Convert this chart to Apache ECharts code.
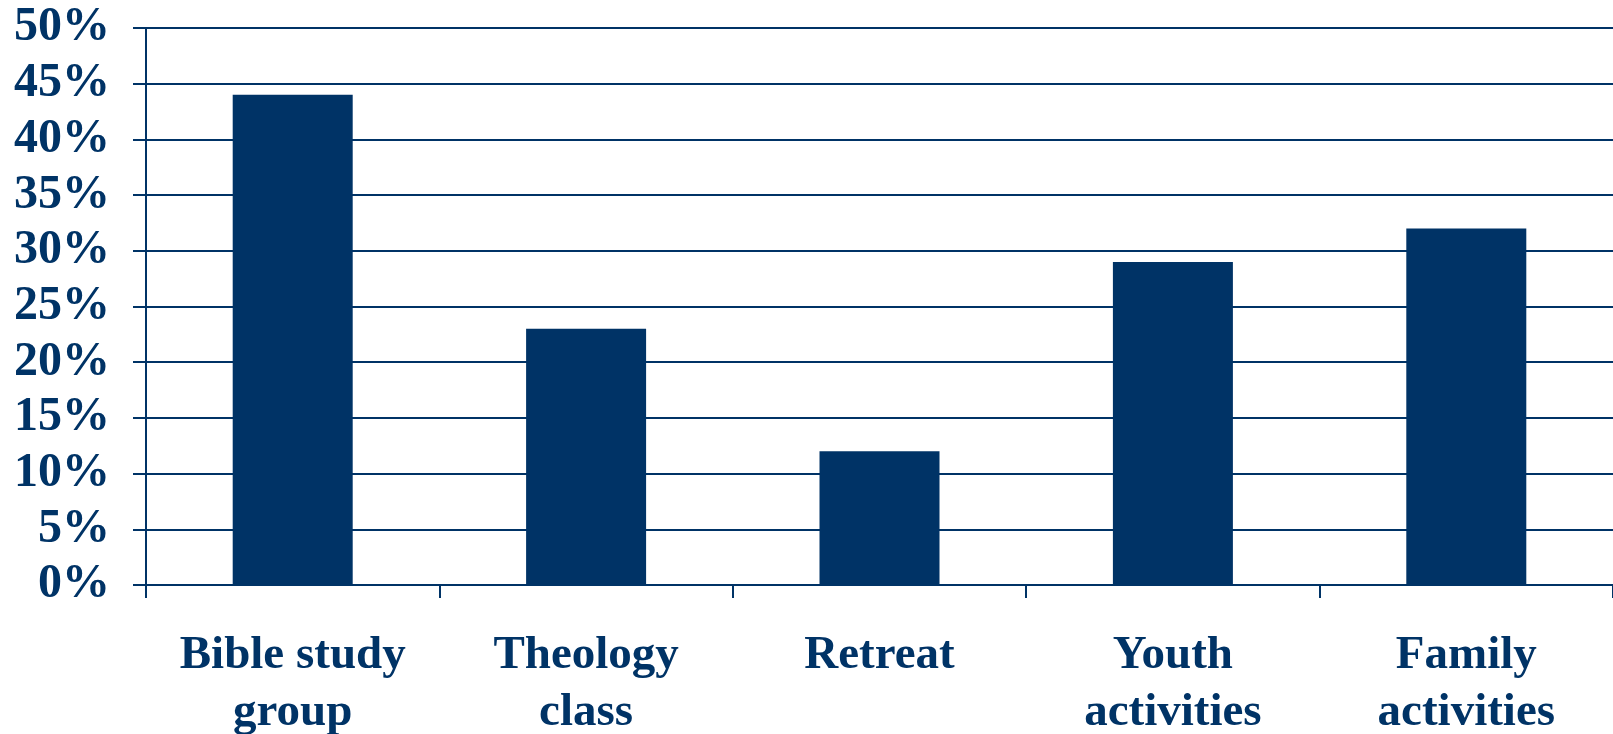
<!DOCTYPE html>
<html>
<head>
<meta charset="utf-8">
<script src="https://cdn.jsdelivr.net/npm/echarts@6/dist/echarts.min.js"></script>
<style>
	html, body { margin: 0; padding: 0; background: #fff; }
	#chart { width: 1613px; height: 734px; }
</style>
</head>
<body>
<div id="chart"></div>
<script>
// categories and values (percent)
const categories = ['Bible study\ngroup', 'Theology\nclass', 'Retreat', 'Youth\nactivities', 'Family\nactivities']
const values = [44, 23, 12, 29, 32]
const yTicks = [0, 5, 10, 15, 20, 25, 30, 35, 40, 45, 50]

const navy = '#003366'
const font = '"Liberation Serif", "Times New Roman", serif'

const chart = echarts.init(document.getElementById('chart'))

const option = {
	animation: false,
	grid: {
		left: 146,
		right: 0,
		top: 28,
		bottom: 149,
		outerBoundsMode: 'none'
	},
	xAxis: {
		type: 'category',
		data: categories,
		axisLine: { lineStyle: { color: navy, width: 2 } },
		axisTick: { show: true, length: 13, lineStyle: { color: navy, width: 2 } },
		axisLabel: {
			color: navy,
			fontFamily: font,
			fontWeight: 'bold',
			fontSize: 47,
			lineHeight: 57,
			margin: 42,
			interval: 0
		}
	},
	yAxis: {
		type: 'value',
		min: yTicks[0],
		max: yTicks[yTicks.length - 1],
		interval: 5,
		axisLine: { show: true, lineStyle: { color: navy, width: 2 } },
		axisTick: { show: true, length: 13, lineStyle: { color: navy, width: 2 } },
		splitLine: { lineStyle: { color: navy, width: 2 } },
		axisLabel: {
			color: navy,
			fontFamily: font,
			fontWeight: 'bold',
			fontSize: 48,
			margin: 36,
			formatter: '{value}%'
		}
	},
	series: [{
		type: 'bar',
		data: values,
		barWidth: 120,
		itemStyle: { color: navy }
	}]
}

chart.setOption(option)
</script>
</body>
</html>
